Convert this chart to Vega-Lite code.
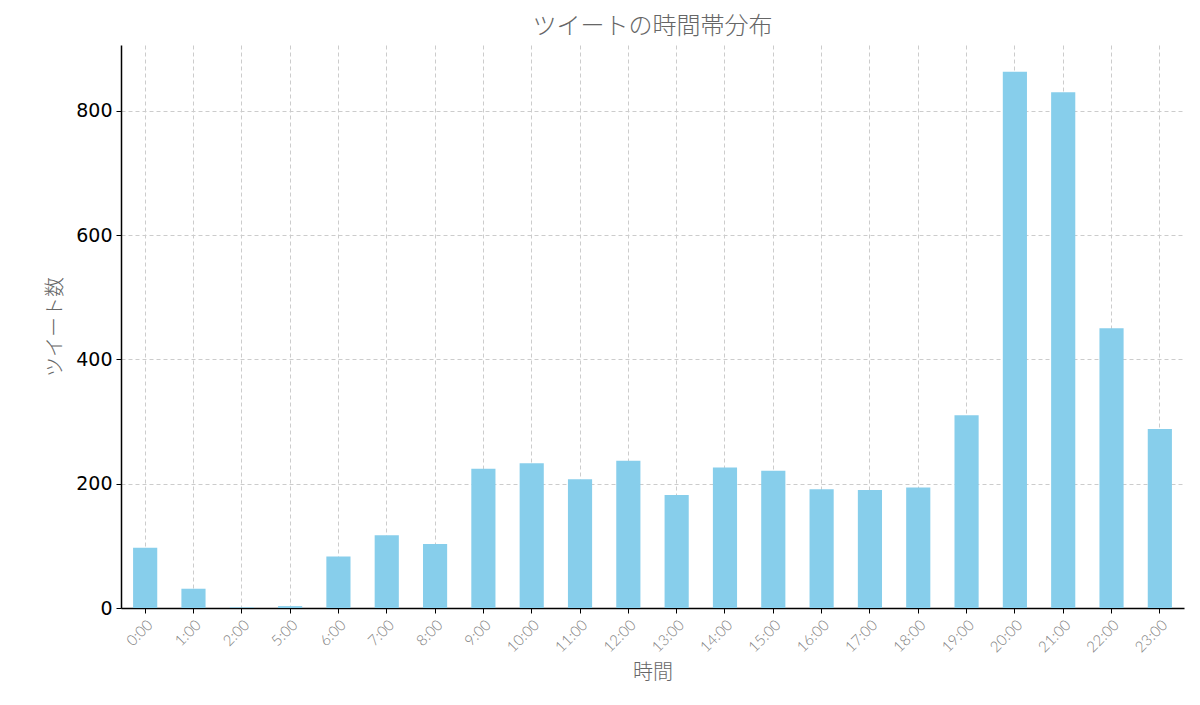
{
  "$schema": "https://vega.github.io/schema/vega-lite/v6.json",
  "description": "ツイートの時間帯分布",
  "autosize": "none",
  "width": 1063,
  "height": 563,
  "padding": {"left": 121, "top": 45, "right": 16, "bottom": 97},
  "background": "white",
  "title": {
    "text": "ツイートの時間帯分布",
    "font": "Noto Sans CJK JP",
    "fontSize": 24,
    "fontWeight": 300,
    "color": "#666666",
    "anchor": "middle",
    "offset": 6
  },
  "data": {
    "values": [
      {"hour": "0:00", "n": 97},
      {"hour": "1:00", "n": 31},
      {"hour": "2:00", "n": 1},
      {"hour": "5:00", "n": 3},
      {"hour": "6:00", "n": 83},
      {"hour": "7:00", "n": 117},
      {"hour": "8:00", "n": 103},
      {"hour": "9:00", "n": 224},
      {"hour": "10:00", "n": 233},
      {"hour": "11:00", "n": 207},
      {"hour": "12:00", "n": 237},
      {"hour": "13:00", "n": 182},
      {"hour": "14:00", "n": 226},
      {"hour": "15:00", "n": 221},
      {"hour": "16:00", "n": 191},
      {"hour": "17:00", "n": 190},
      {"hour": "18:00", "n": 194},
      {"hour": "19:00", "n": 310},
      {"hour": "20:00", "n": 863},
      {"hour": "21:00", "n": 830},
      {"hour": "22:00", "n": 450},
      {"hour": "23:00", "n": 288}
    ]
  },
  "config": {
    "view": {"stroke": null},
    "axis": {
      "gridColor": "#cccccc",
      "gridDash": [4, 3],
      "gridWidth": 1,
      "domainColor": "#000000",
      "domainWidth": 1.5,
      "tickColor": "#000000",
      "tickSize": 5,
      "titleFont": "Noto Sans CJK JP",
      "titleFontWeight": 300,
      "titleColor": "#666666",
      "titleFontSize": 20
    }
  },
  "mark": {"type": "bar", "color": "#87CEEB"},
  "encoding": {
    "x": {
      "field": "hour",
      "type": "ordinal",
      "sort": null,
      "title": "時間",
      "scale": {"paddingInner": 0.5, "paddingOuter": 0.25},
      "axis": {
        "labelAngle": -45,
        "labelColor": "#808080",
        "labelFont": "Lato",
        "labelFontWeight": 300,
        "labelFontSize": 15,
        "labelAlign": "right",
        "labelBaseline": "top",
        "labelPadding": 4,
        "grid": true,
        "gridDash": [4, 3],
        "titlePadding": 8
      }
    },
    "y": {
      "field": "n",
      "type": "quantitative",
      "title": "ツイート数",
      "scale": {"domain": [0, 906], "nice": false},
      "axis": {
        "values": [0, 200, 400, 600, 800],
        "labelColor": "#000000",
        "labelFont": "DejaVu Sans",
        "labelFontSize": 19,
        "labelPadding": 4,
        "titlePadding": 10
      }
    }
  }
}
